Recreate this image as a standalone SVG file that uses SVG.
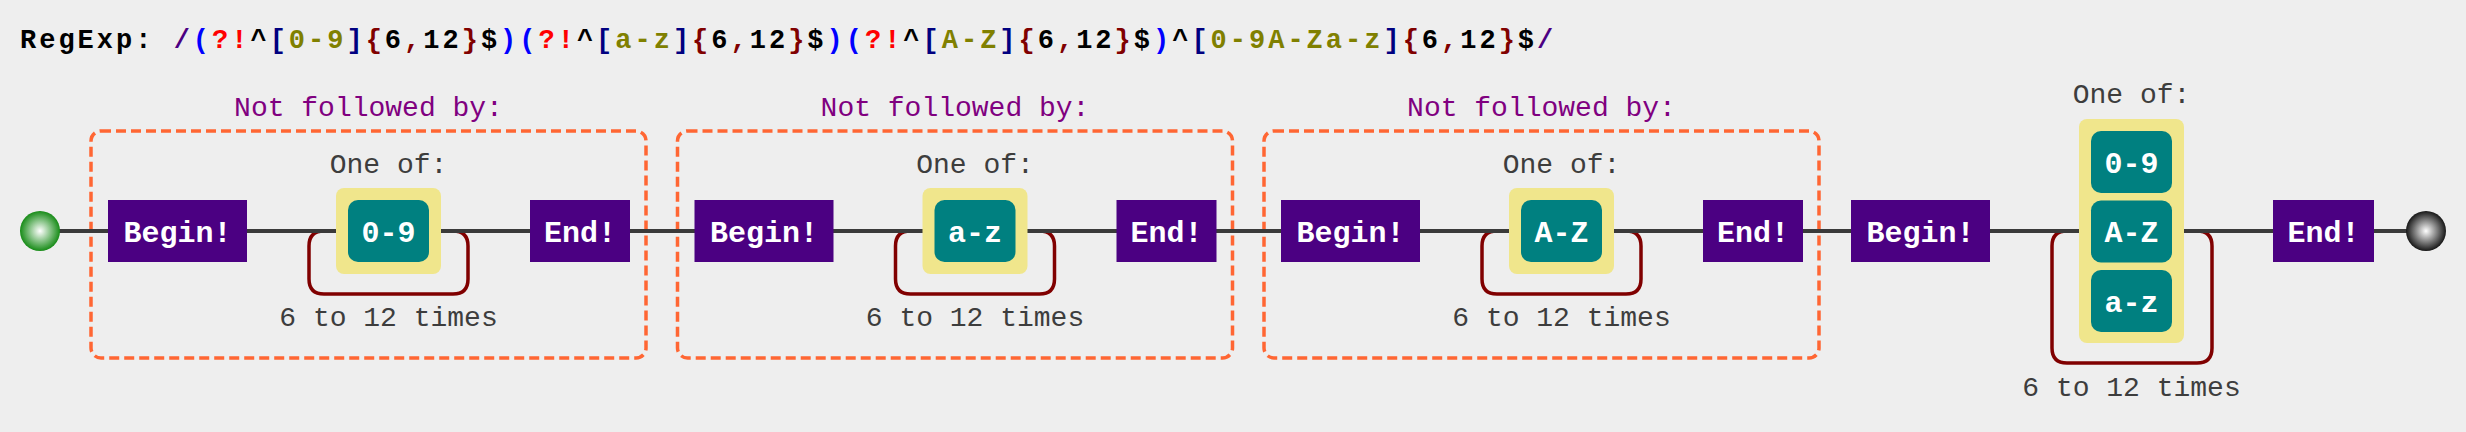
<svg xmlns="http://www.w3.org/2000/svg" width="2466" height="432" viewBox="0 0 2466 432">
<defs>
<radialGradient id="gStart" cx="50%" cy="50%" r="55%">
<stop offset="0" stop-color="#ffffff"/>
<stop offset="1" stop-color="#008000"/>
</radialGradient>
<radialGradient id="gEnd" cx="50%" cy="50%" r="55%">
<stop offset="0" stop-color="#ffffff"/>
<stop offset="1" stop-color="#000000"/>
</radialGradient>
<style>
.mono{font-family:"Liberation Mono","DejaVu Sans Mono",monospace}
.title{font-size:27px;font-weight:bold;letter-spacing:3px}
.anchor rect{fill:#4b0082}
.anchor text,.lit text{fill:#ffffff;font-size:30px;font-weight:bold;text-anchor:middle}
.lit rect{fill:#008080}
.set{fill:#f0e68c}
.dash{fill:none;stroke:#ff6633;stroke-width:3.5;stroke-dasharray:10,5}
.lbl{fill:#3d3d3d;font-size:28px;text-anchor:middle}
.neg{fill:#800080;font-size:28px;text-anchor:middle}
.line{fill:none;stroke:#3a3a3a;stroke-width:4}
.loop{fill:none;stroke:#800000;stroke-width:3.5}
</style>
</defs>
<rect width="2466" height="432" fill="#eeeeee"/>
<g id="title" class="mono title">
<text x="20" y="48"><tspan fill="#000000">RegExp: </tspan><tspan fill="#4b0082">/</tspan><tspan fill="#0000ff">(</tspan><tspan fill="#ff0000">?!</tspan><tspan fill="#000000">^</tspan><tspan fill="#000080">[</tspan><tspan fill="#808000">0-9</tspan><tspan fill="#000080">]</tspan><tspan fill="#800000">{</tspan><tspan fill="#000000">6</tspan><tspan fill="#800000">,</tspan><tspan fill="#000000">12</tspan><tspan fill="#800000">}</tspan><tspan fill="#000000">$</tspan><tspan fill="#0000ff">)</tspan><tspan fill="#0000ff">(</tspan><tspan fill="#ff0000">?!</tspan><tspan fill="#000000">^</tspan><tspan fill="#000080">[</tspan><tspan fill="#808000">a-z</tspan><tspan fill="#000080">]</tspan><tspan fill="#800000">{</tspan><tspan fill="#000000">6</tspan><tspan fill="#800000">,</tspan><tspan fill="#000000">12</tspan><tspan fill="#800000">}</tspan><tspan fill="#000000">$</tspan><tspan fill="#0000ff">)</tspan><tspan fill="#0000ff">(</tspan><tspan fill="#ff0000">?!</tspan><tspan fill="#000000">^</tspan><tspan fill="#000080">[</tspan><tspan fill="#808000">A-Z</tspan><tspan fill="#000080">]</tspan><tspan fill="#800000">{</tspan><tspan fill="#000000">6</tspan><tspan fill="#800000">,</tspan><tspan fill="#000000">12</tspan><tspan fill="#800000">}</tspan><tspan fill="#000000">$</tspan><tspan fill="#0000ff">)</tspan><tspan fill="#000000">^</tspan><tspan fill="#000080">[</tspan><tspan fill="#808000">0-9A-Za-z</tspan><tspan fill="#000080">]</tspan><tspan fill="#800000">{</tspan><tspan fill="#000000">6</tspan><tspan fill="#800000">,</tspan><tspan fill="#000000">12</tspan><tspan fill="#800000">}</tspan><tspan fill="#000000">$</tspan><tspan fill="#4b0082">/</tspan></text>
</g>

<g id="lookahead1" class="mono">
<rect class="dash" x="91" y="131" width="555" height="227" rx="10"/>
<text class="neg" x="368.5" y="116">Not followed by:</text>
</g>
<g id="lookahead2" class="mono">
<rect class="dash" x="677.5" y="131" width="555" height="227" rx="10"/>
<text class="neg" x="955" y="116">Not followed by:</text>
</g>
<g id="lookahead3" class="mono">
<rect class="dash" x="1264" y="131" width="555" height="227" rx="10"/>
<text class="neg" x="1541.5" y="116">Not followed by:</text>
</g>

<g id="connectors">
<path class="loop" d="M 336,231 H 324 Q 309,231 309,246 V 279 Q 309,294 324,294 H 453 Q 468,294 468,279 V 246 Q 468,231 453,231 H 441"/>
<path class="loop" transform="translate(586.5,0)" d="M 336,231 H 324 Q 309,231 309,246 V 279 Q 309,294 324,294 H 453 Q 468,294 468,279 V 246 Q 468,231 453,231 H 441"/>
<path class="loop" transform="translate(1173,0)" d="M 336,231 H 324 Q 309,231 309,246 V 279 Q 309,294 324,294 H 453 Q 468,294 468,279 V 246 Q 468,231 453,231 H 441"/>
<path class="loop" d="M 2079,231 H 2067 Q 2052,231 2052,246 V 348 Q 2052,363 2067,363 H 2197 Q 2212,363 2212,348 V 246 Q 2212,231 2197,231 H 2184"/>
<path class="line" d="M 40,231 H 2426"/>
</g>

<g id="start"><circle cx="40" cy="231" r="20" fill="url(#gStart)"/></g>

<g id="begin1" class="mono anchor"><rect x="108" y="200" width="139" height="62"/><text x="177.5" y="241.5">Begin!</text></g>
<g id="set1" class="mono">
<text class="lbl" x="388.5" y="173">One of:</text>
<rect class="set" x="336" y="188" width="105" height="86" rx="8"/>
<g class="lit"><rect x="348" y="200" width="81" height="62" rx="10"/><text x="388.5" y="241.5">0-9</text></g>
<text class="lbl" x="388.5" y="326">6 to 12 times</text>
</g>
<g id="end1" class="mono anchor"><rect x="530" y="200" width="100" height="62"/><text x="580" y="241.5">End!</text></g>

<g id="begin2" class="mono anchor"><rect x="694.5" y="200" width="139" height="62"/><text x="764" y="241.5">Begin!</text></g>
<g id="set2" class="mono">
<text class="lbl" x="975" y="173">One of:</text>
<rect class="set" x="922.5" y="188" width="105" height="86" rx="8"/>
<g class="lit"><rect x="934.5" y="200" width="81" height="62" rx="10"/><text x="975" y="241.5">a-z</text></g>
<text class="lbl" x="975" y="326">6 to 12 times</text>
</g>
<g id="end2" class="mono anchor"><rect x="1116.5" y="200" width="100" height="62"/><text x="1166.5" y="241.5">End!</text></g>

<g id="begin3" class="mono anchor"><rect x="1281" y="200" width="139" height="62"/><text x="1350.5" y="241.5">Begin!</text></g>
<g id="set3" class="mono">
<text class="lbl" x="1561.5" y="173">One of:</text>
<rect class="set" x="1509" y="188" width="105" height="86" rx="8"/>
<g class="lit"><rect x="1521" y="200" width="81" height="62" rx="10"/><text x="1561.5" y="241.5">A-Z</text></g>
<text class="lbl" x="1561.5" y="326">6 to 12 times</text>
</g>
<g id="end3" class="mono anchor"><rect x="1703" y="200" width="100" height="62"/><text x="1753" y="241.5">End!</text></g>

<g id="begin4" class="mono anchor"><rect x="1851" y="200" width="139" height="62"/><text x="1920.5" y="241.5">Begin!</text></g>
<g id="set4" class="mono">
<text class="lbl" x="2131.5" y="103">One of:</text>
<rect class="set" x="2079" y="119" width="105" height="224" rx="8"/>
<g class="lit">
<rect x="2091" y="131" width="81" height="62" rx="10"/><text x="2131.5" y="172.5">0-9</text>
<rect x="2091" y="200.5" width="81" height="62" rx="10"/><text x="2131.5" y="242">A-Z</text>
<rect x="2091" y="270" width="81" height="62" rx="10"/><text x="2131.5" y="311.5">a-z</text>
</g>
<text class="lbl" x="2131.5" y="396">6 to 12 times</text>
</g>
<g id="end4" class="mono anchor"><rect x="2273" y="200" width="101" height="62"/><text x="2323.5" y="241.5">End!</text></g>

<g id="finish"><circle cx="2426" cy="231" r="20" fill="url(#gEnd)"/></g>
</svg>
